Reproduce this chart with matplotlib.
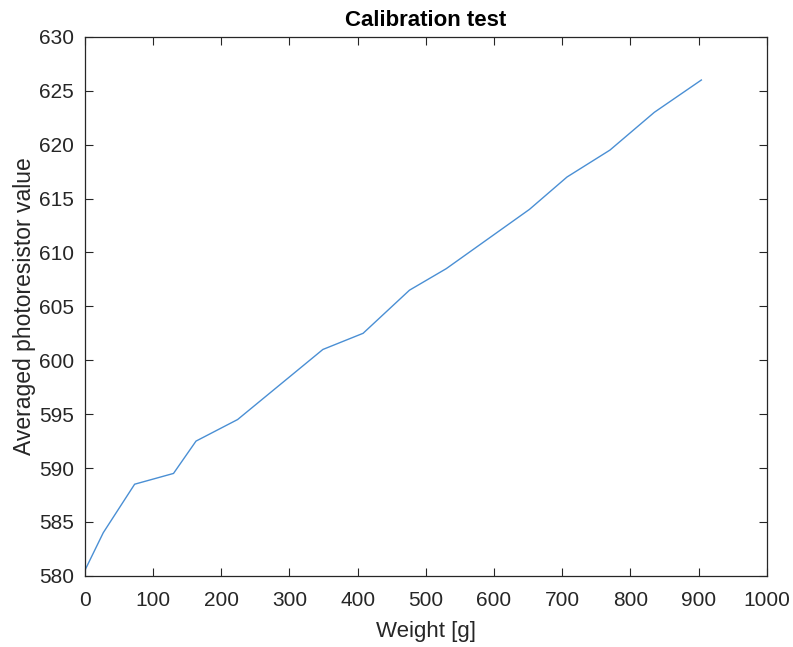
import matplotlib
matplotlib.use('Agg')
import matplotlib.pyplot as plt

# calibration readings: load on the sensor vs averaged photoresistor output
weight_g = [0, 27, 73, 130, 163, 224, 349, 408, 476, 530, 652, 707, 770, 835, 904]
photo_avg = [580.5, 584, 588.5, 589.5, 592.5, 594.5, 601, 602.5, 606.5, 608.5,
             614, 617, 619.5, 623, 626]

x_ticks = list(range(0, 1001, 100))
y_ticks = list(range(580, 631, 5))

plt.rcParams['font.family'] = ['Liberation Sans', 'DejaVu Sans']

fig = plt.figure(figsize=(7.93, 6.47), dpi=100)
ax = fig.add_axes([0.107, 0.110, 0.860, 0.833])

ax.plot(weight_g, photo_avg, color='#4a8fd4', linewidth=1.0)

ax.set_xlim(0, 1000)
ax.set_ylim(580, 630)
ax.set_xticks(x_ticks)
ax.set_yticks(y_ticks)

axis_col = '#262626'
for s in ax.spines.values():
    s.set_color(axis_col)
    s.set_linewidth(0.9)
ax.tick_params(direction='in', length=6, width=0.8, color=axis_col,
               top=True, right=True, labelsize=15, labelcolor=axis_col)
ax.tick_params(axis='x', pad=11)
ax.tick_params(axis='y', pad=8)

ax.set_xlabel('Weight [g]', fontsize=16, color=axis_col, labelpad=8)
ax.set_ylabel('Averaged photoresistor value', fontsize=16.5, color=axis_col, labelpad=2)
ax.set_title('Calibration test', fontsize=16, fontweight='bold', color='black', pad=8)

fig.savefig('out.png', dpi=100)
